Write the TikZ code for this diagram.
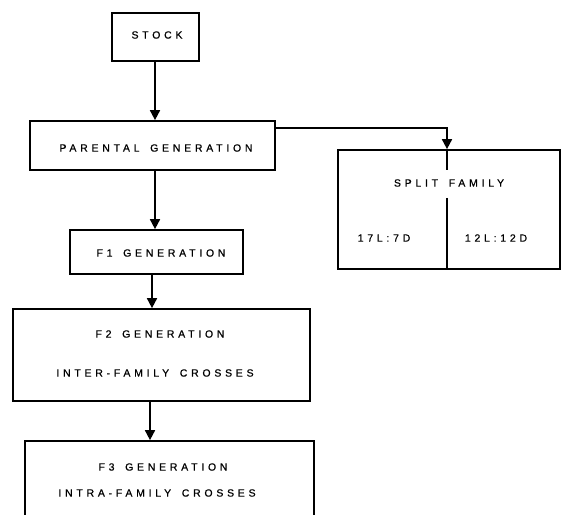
\documentclass[tikz,border=0pt]{standalone}
\usepackage{fontspec}
\newfontfamily\lbl{Liberation Sans}[LetterSpace=36, WordSpace=1.6, FakeBold=0.7]
\usetikzlibrary{arrows.meta}
\tikzset{
  box/.style={draw, line width=1.7bp, rectangle, inner sep=0pt},
  txt/.style={font=\lbl\fontsize{10.5}{12}\selectfont, inner sep=0pt},
  conn/.style={line width=1.7bp},
  arr/.style={conn, -{Triangle[width=10bp,length=10bp]}}
}
\begin{document}
\begin{tikzpicture}[x=1bp,y=-1bp]
\clip (0,0) rectangle (563,515);
% boxes
\node[box, minimum width=87bp, minimum height=48bp] (stock) at (155.5,37) {};
\node[txt] (tstock) at (157,35) {STOCK};
\node[box, minimum width=245bp, minimum height=49bp] (parental) at (152.5,145.5) {};
\node[txt] (tparental) at (156,148) {PARENTAL GENERATION};
\node[box, minimum width=173bp, minimum height=44bp] (f1) at (156.5,252) {};
\node[txt] (tf1) at (161,253) {F1 GENERATION};
\node[box, minimum width=297bp, minimum height=92bp] (f2) at (161.5,355) {};
\node[txt] (tf2a) at (160,334) {F2 GENERATION};
\node[txt] (tf2b) at (155,373) {INTER-FAMILY CROSSES};
\node[box, minimum width=289bp, minimum height=90bp] (f3) at (169.5,486) {};
\node[txt] (tf3a) at (163,467) {F3 GENERATION};
\node[txt] (tf3b) at (157,493) {INTRA-FAMILY CROSSES};
\node[box, minimum width=222bp, minimum height=119bp] (split) at (449,209.5) {};
\node[txt] (tsplit) at (449,183) {SPLIT FAMILY};
\node[txt] (tleft) at (384,238) {17L:7D};
\node[txt] (tright) at (496,238) {12L:12D};
% divider
\coordinate (d1) at (447,170);
\coordinate (d2) at (447,198);
\draw[conn] (split.north -| d1) -- (d1);
\draw[conn] (d2) -- (d2 |- split.south);
% connectors
\draw[arr] ([xshift=-0.5bp]stock.south) -- ([xshift=-0.5bp]stock.south |- parental.north);
\draw[arr] ([xshift=-1.5bp]f1.north |- parental.south) -- ([xshift=-1.5bp]f1.north);
\draw[arr] ([xshift=-4.5bp]f1.south) -- ([xshift=-4.5bp]f1.south |- f2.north);
\draw[arr] ([xshift=-6.5bp]f1.south |- f2.south) -- ([xshift=-6.5bp]f1.south |- f3.north);
\draw[arr] ([yshift=-8bp]parental.north east) -| (split.north -| d1);
\end{tikzpicture}
\end{document}
